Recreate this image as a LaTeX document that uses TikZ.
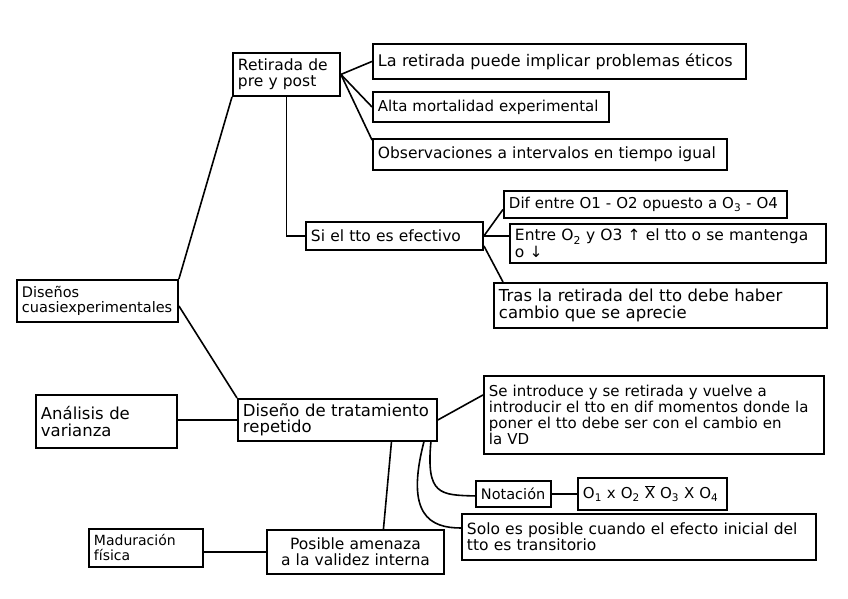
\documentclass[tikz,border=0pt]{standalone}
\usepackage{fontspec}
\setmainfont{DejaVu Sans}
\tikzset{
    caja/.style={draw, line width=1.9pt, anchor=north west, align=left,
        inner xsep=5pt, inner ysep=1pt, font=\fontsize{15.5}{16.5}\selectfont},
    linea/.style={line width=1.6pt},
}
\begin{document}
\begin{tikzpicture}[x=1pt,y=-1pt]
        \useasboundingbox (0,0) rectangle (848,599);
        %% rama de retirada
        \node[caja, text width=97pt, minimum height=43pt] (ret) at (232,52) {Retirada de\\pre y post};
        \node[caja, text width=363pt, minimum height=35pt, font=\fontsize{16}{17}\selectfont] (eti) at (372,43) {La retirada puede implicar problemas éticos};
        \node[caja, text width=226pt, minimum height=30pt, font=\fontsize{15}{16}\selectfont] (alta) at (372,91) {Alta mortalidad experimental};
        \node[caja, text width=344pt, minimum height=31pt] (obs) at (372,138) {Observaciones a intervalos en tiempo igual};
        \node[caja, text width=167pt, minimum height=28pt] (si) at (305,221) {Si el tto es efectivo};
        \node[caja, text width=273pt, minimum height=27pt, font=\fontsize{15}{16}\selectfont] (dif) at (503,190) {Dif entre O1 - O2 opuesto a O\textsubscript{3} - O4};
        \node[caja, text width=306pt, minimum height=39pt] (ent) at (509,223) {Entre O\textsubscript{2} y O3 ↑ el tto o se mantenga\\o ↓};
        \node[caja, text width=323pt, minimum height=45pt, font=\fontsize{16.5}{17.5}\selectfont] (tras) at (493,282) {Tras la retirada del tto debe haber\\cambio que se aprecie};
        %% centro
        \node[caja, text width=151pt, minimum height=42pt, font=\fontsize{14.5}{15}\selectfont] (dis) at (16,279) {Diseños\\cuasiexperimentales};
        %% rama de tratamiento repetido
        \node[caja, text width=131pt, minimum height=53pt, font=\fontsize{16.5}{17.5}\selectfont] (ana) at (35,394) {Análisis de\\varianza};
        \node[caja, text width=189pt, minimum height=42pt, font=\fontsize{16.5}{16.5}\selectfont] (rep) at (237,398) {Diseño de tratamiento\\repetido};
        \node[caja, text width=330pt, minimum height=78pt, font=\fontsize{15}{16}\selectfont] (intro) at (483,375) {Se introduce y se retirada y vuelve a\\introducir el tto en dif momentos donde la\\poner el tto debe ser con el cambio en\\la VD};
        \node[caja, text width=65pt, minimum height=26pt, font=\fontsize{14.5}{15}\selectfont] (nota) at (475,480) {Notación};
        \node[caja, text width=139pt, minimum height=32pt, font=\fontsize{15}{16}\selectfont] (obsx) at (577,477) {O\textsubscript{1} x O\textsubscript{2} \(\overline{\mbox{X}}\) O\textsubscript{3} X O\textsubscript{4}};
        \node[caja, text width=344pt, minimum height=46pt, font=\fontsize{15.5}{16}\selectfont] (solo) at (461,513) {Solo es posible cuando el efecto inicial del\\tto es transitorio};
        \node[caja, text width=167pt, minimum height=44pt, align=center] (amen) at (266,529) {Posible amenaza\\a la validez interna};
        \node[caja, text width=104pt, minimum height=38pt, font=\fontsize{14}{15}\selectfont] (mad) at (88,528) {Maduración\\física};
        %% conectores
        \draw[linea] (dis.north east) -- (ret.south west);
        \draw[linea] ([yshift=-5pt]dis.east) -- (rep.north west);
        \foreach \n in {eti,alta}
            \draw[linea] (ret.east) -- (\n.west);
        \draw[linea] (ret.east) -- ([yshift=-2pt]obs.north west);
        \draw[linea] (ret.south) |- (si.west);
        \draw[linea] (si.east) -- ([yshift=-5pt]dif.west);
        \draw[linea] (si.east) -- (si.east -| ent.west);
        \draw[linea] ([yshift=5pt]si.south east) -- ([xshift=10pt]tras.north west);
        \draw[linea] (ana.east |- rep.west) -- (rep.west);
        \draw[linea] (rep.east) -- ([yshift=20pt]intro.west);
        \draw[linea] ([xshift=54pt]rep.south) -- ([xshift=28pt]amen.north);
        \draw[linea] (amen.west) -- (amen.west -| mad.east);
        \draw[linea] ([xshift=-7pt]rep.south east) .. controls (426,495) and (440,495) .. ([yshift=-2pt]nota.west);
        \draw[linea] ([xshift=-14pt]rep.south east) .. controls (405,515) and (430,528) .. ([yshift=-15pt]solo.north west);
        \draw[linea] (nota.east) -- (obsx.west);
    \end{tikzpicture}
\end{document}
